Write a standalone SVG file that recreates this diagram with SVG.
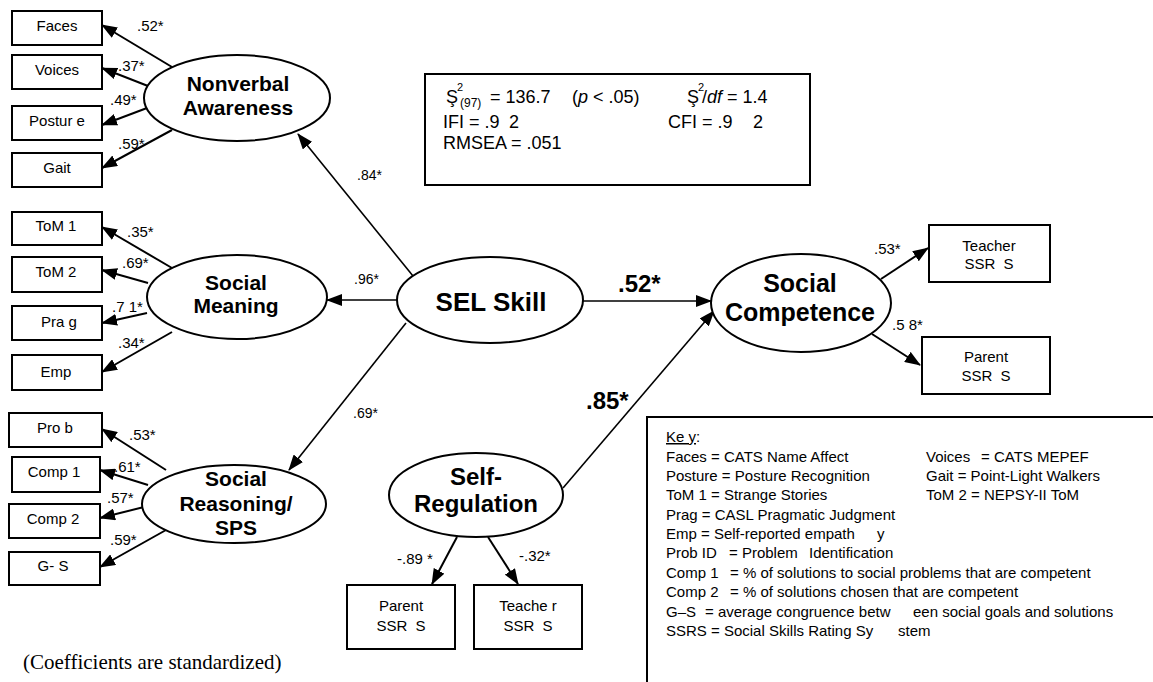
<svg xmlns="http://www.w3.org/2000/svg" width="1153" height="682" viewBox="0 0 1153 682">
<style>
.bg{fill:#fff}
.box{fill:#fff;stroke:#000;stroke-width:2}
.ell{fill:#fff;stroke:#000;stroke-width:2}
.bt{font-family:"Liberation Sans",Arial,sans-serif;font-size:15px;text-anchor:middle;fill:#000;white-space:pre}
.lat{font-family:"Liberation Sans",Arial,sans-serif;font-weight:bold;font-size:21px;text-anchor:middle;fill:#000}
.co{font-family:"Liberation Sans",Arial,sans-serif;font-size:15px;fill:#000;white-space:pre}
.cos{font-family:"Liberation Sans",Arial,sans-serif;font-size:14px;fill:#000}
.cob{font-family:"Liberation Sans",Arial,sans-serif;font-size:24px;font-weight:bold;fill:#000}
.fit{font-family:"Liberation Sans",Arial,sans-serif;font-size:18px;fill:#000;white-space:pre}
.key{font-family:"Liberation Sans",Arial,sans-serif;font-size:15px;fill:#000;white-space:pre}
.ln{stroke:#000;stroke-width:2;fill:none;marker-end:url(#ah)}
.lt{stroke:#000;stroke-width:1.6;fill:none;marker-end:url(#ah)}
</style>
<defs>
<marker id="ah" markerUnits="userSpaceOnUse" markerWidth="16" markerHeight="12" refX="15" refY="6" orient="auto">
<path d="M0,0 L16,6 L0,12 z" fill="#000"/>
</marker>
</defs>
<rect class="bg" x="0" y="0" width="1153" height="682"/>

<g id="connectors">
<line class="ln" x1="172" y1="67" x2="102" y2="25"/>
<line class="ln" x1="148" y1="86" x2="102" y2="68"/>
<line class="ln" x1="147" y1="108" x2="102" y2="125"/>
<line class="ln" x1="172" y1="130" x2="102" y2="168"/>
<line class="ln" x1="172" y1="268" x2="102" y2="227"/>
<line class="ln" x1="148" y1="283" x2="102" y2="270"/>
<line class="ln" x1="147" y1="313" x2="102" y2="323"/>
<line class="ln" x1="172" y1="332" x2="102" y2="372"/>
<line class="ln" x1="166" y1="470" x2="102" y2="429"/>
<line class="ln" x1="148" y1="485" x2="100" y2="470"/>
<line class="ln" x1="144" y1="507" x2="100" y2="518"/>
<line class="ln" x1="166" y1="530" x2="100" y2="567"/>
<line class="lt" x1="413" y1="276" x2="298" y2="134"/>
<line class="lt" x1="397" y1="300" x2="327" y2="300"/>
<line class="lt" x1="406" y1="323" x2="289" y2="470"/>
<line class="lt" x1="583" y1="301" x2="711" y2="301"/>
<line class="lt" x1="563" y1="488" x2="714" y2="311"/>
<line class="ln" x1="881" y1="279" x2="928" y2="248"/>
<line class="ln" x1="872" y1="334" x2="920" y2="365"/>
<line class="ln" x1="457" y1="537" x2="432" y2="584"/>
<line class="ln" x1="488" y1="537" x2="518" y2="584"/>
</g>

<g id="coefficients">
<text class="co" x="137" y="31">.52*</text>
<text class="co" x="118" y="71">.37*</text>
<text class="co" x="110" y="105">.49*</text>
<text class="co" x="118" y="149">.59*</text>
<text class="co" x="127" y="237">.35*</text>
<text class="co" x="122" y="268">.69*</text>
<text class="co" x="112" y="312">.7 1*</text>
<text class="co" x="118" y="348">.34*</text>
<text class="co" x="129" y="440">.53*</text>
<text class="co" x="114" y="472">.61*</text>
<text class="co" x="107" y="503">.57*</text>
<text class="co" x="110" y="545">.59*</text>
<text class="cos" x="357" y="180">.84*</text>
<text class="cos" x="354" y="284">.96*</text>
<text class="cos" x="353" y="418">.69*</text>
<text class="cob" x="618" y="292">.52*</text>
<text class="cob" x="586" y="409">.85*</text>
<text class="co" x="874" y="254">.53*</text>
<text class="co" x="892" y="330">.5 8*</text>
<text class="co" x="397" y="564">-.89 *</text>
<text class="co" x="519" y="561">-.32*</text>
</g>

<g id="faces"><rect class="box" x="12" y="11" width="90" height="34"/><text class="bt" x="57" y="31">Faces</text></g>
<g id="voices"><rect class="box" x="12" y="55" width="90" height="34"/><text class="bt" x="57" y="75">Voices</text></g>
<g id="posture"><rect class="box" x="12" y="106" width="90" height="34"/><text class="bt" x="57" y="126">Postur e</text></g>
<g id="gait"><rect class="box" x="12" y="153" width="90" height="34"/><text class="bt" x="57" y="173">Gait</text></g>

<g id="tom1"><rect class="box" x="12" y="212" width="90" height="33"/><text class="bt" x="56" y="231">ToM 1</text></g>
<g id="tom2"><rect class="box" x="12" y="257" width="90" height="35"/><text class="bt" x="56" y="277">ToM 2</text></g>
<g id="prag"><rect class="box" x="12" y="306" width="90" height="34"/><text class="bt" x="59" y="327">Pra g</text></g>
<g id="emp"><rect class="box" x="12" y="355" width="90" height="35"/><text class="bt" x="56" y="377">Emp</text></g>

<g id="prob"><rect class="box" x="9" y="413" width="93" height="34"/><text class="bt" x="55" y="433">Pro b</text></g>
<g id="comp1"><rect class="box" x="12" y="457" width="88" height="35"/><text class="bt" x="54" y="477">Comp 1</text></g>
<g id="comp2"><rect class="box" x="9" y="504" width="91" height="34"/><text class="bt" x="53" y="524">Comp 2</text></g>
<g id="gs"><rect class="box" x="9" y="552" width="91" height="33"/><text class="bt" x="53" y="571">G- S</text></g>

<g id="nonverbal-awareness"><ellipse class="ell" cx="237" cy="98" rx="93" ry="43"/><text class="lat" x="238" y="91">Nonverbal</text><text class="lat" x="238" y="115">Awareness</text></g>
<g id="social-meaning"><ellipse class="ell" cx="237" cy="297" rx="90" ry="42"/><text class="lat" x="236" y="290">Social</text><text class="lat" x="236" y="313">Meaning</text></g>
<g id="social-reasoning"><ellipse class="ell" cx="234" cy="504" rx="92" ry="39"/><text class="lat" x="236" y="486">Social</text><text class="lat" x="236" y="511">Reasoning/</text><text class="lat" x="236" y="535">SPS</text></g>
<g id="sel-skill"><ellipse class="ell" cx="490" cy="300" rx="93" ry="43"/><text class="lat" x="491" y="311" style="font-size:26px">SEL Skill</text></g>
<g id="social-competence"><ellipse class="ell" cx="801" cy="303" rx="90" ry="49"/><text class="lat" x="800" y="292" style="font-size:25px">Social</text><text class="lat" x="800" y="321" style="font-size:25px">Competence</text></g>
<g id="self-regulation"><ellipse class="ell" cx="476" cy="495" rx="87" ry="42"/><text class="lat" x="476" y="485" style="font-size:24px">Self-</text><text class="lat" x="476" y="512" style="font-size:24px">Regulation</text></g>

<g id="teacher-ssrs-sc"><rect class="box" x="929" y="225" width="121" height="57"/><text class="bt" x="989" y="251">Teacher</text><text class="bt" x="989" y="269">SSR  S</text></g>
<g id="parent-ssrs-sc"><rect class="box" x="922" y="337" width="128" height="57"/><text class="bt" x="986" y="362">Parent</text><text class="bt" x="986" y="381">SSR  S</text></g>
<g id="parent-ssrs-sr"><rect class="box" x="347" y="585" width="108" height="64"/><text class="bt" x="401" y="611">Parent</text><text class="bt" x="401" y="631">SSR  S</text></g>
<g id="teacher-ssrs-sr"><rect class="box" x="474" y="585" width="108" height="64"/><text class="bt" x="528" y="611">Teache r</text><text class="bt" x="528" y="631">SSR  S</text></g>

<g id="fit-box">
<rect class="box" x="425" y="74" width="385" height="111"/>
<text class="fit" x="446" y="103">Ş</text>
<text class="fit" x="457" y="91" style="font-size:11px">2</text>
<text class="fit" x="460" y="107" style="font-size:12px">(97)</text>
<text class="fit" x="490" y="103">= 136.7</text>
<text class="fit" x="572" y="103">(<tspan font-style="italic">p</tspan> &lt; .05)</text>
<text class="fit" x="687" y="103">Ş</text>
<text class="fit" x="698" y="91" style="font-size:11px">2</text>
<text class="fit" x="702" y="103">/<tspan font-style="italic">df</tspan> = 1.4</text>
<text class="fit" x="443" y="128">IFI = .9</text>
<text class="fit" x="509" y="128">2</text>
<text class="fit" x="668" y="128">CFI = .9</text>
<text class="fit" x="753" y="128">2</text>
<text class="fit" x="443" y="149">RMSEA = .051</text>
</g>

<g id="key">
<rect class="box" x="647" y="417" width="520" height="275"/>
<text class="key" x="666" y="442"><tspan text-decoration="underline">Ke y</tspan>:</text>
<text class="key" x="666" y="462">Faces = CATS Name Affect</text>
<text class="key" x="926" y="462">Voices</text>
<text class="key" x="981" y="462">= CATS MEPEF</text>
<text class="key" x="666" y="481">Posture = Posture Recognition</text>
<text class="key" x="926" y="481">Gait = Point-Light Walkers</text>
<text class="key" x="666" y="500">ToM 1 = Strange Stories</text>
<text class="key" x="926" y="500">ToM 2 = NEPSY-II ToM</text>
<text class="key" x="666" y="520">Prag = CASL Pragmatic Judgment</text>
<text class="key" x="666" y="539">Emp = Self-reported empath<tspan x="877">y</tspan></text>
<text class="key" x="666" y="558">Prob ID<tspan x="729">= Problem</tspan><tspan x="809">Identification</tspan></text>
<text class="key" x="666" y="578">Comp 1<tspan x="730">= % of solutions to social problems that are competent</tspan></text>
<text class="key" x="666" y="597">Comp 2<tspan x="730">= % of solutions chosen that are competent</tspan></text>
<text class="key" x="666" y="617">G–S<tspan x="705">= average congruence betw</tspan><tspan x="913">een social goals and solutions</tspan></text>
<text class="key" x="666" y="636">SSRS = Social Skills Rating Sy<tspan x="898">stem</tspan></text>
</g>

<text x="23" y="669" style="font-family:'Liberation Serif','Times New Roman',serif;font-size:21px;fill:#000">(Coefficients are standardized)</text>
</svg>
